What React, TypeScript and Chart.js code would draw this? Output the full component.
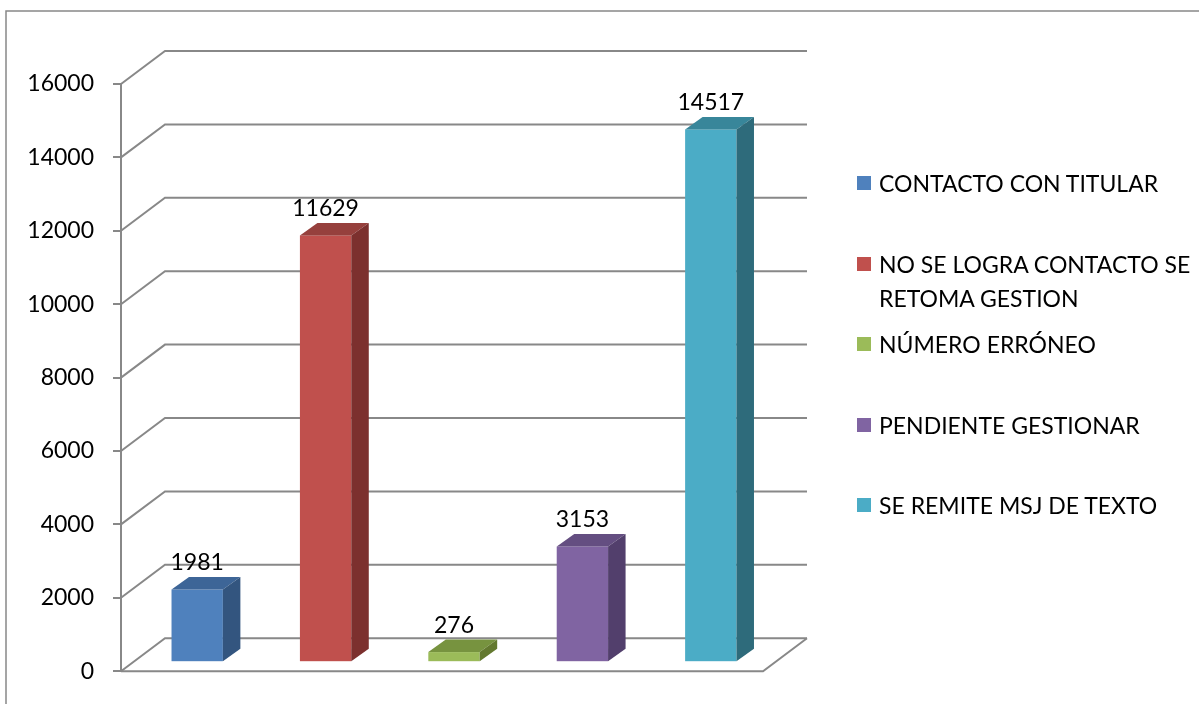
import React, { useEffect, useRef } from 'react';
import { Chart, registerables } from 'chart.js';

Chart.register(...registerables);

// ---- data ----
const categories: (string | string[])[] = [
  'CONTACTO CON TITULAR',
  ['NO SE LOGRA CONTACTO SE', 'RETOMA GESTION'],
  'NÚMERO ERRÓNEO',
  'PENDIENTE GESTIONAR',
  'SE REMITE MSJ DE TEXTO',
];
const values = [1981, 11629, 276, 3153, 14517];
const yMin = 0;
const yMax = 16000;
const yStep = 2000;

// ---- styles ----
const frontColors = ['#4F81BD', '#C0504D', '#9BBB59', '#8064A2', '#4BACC6'];
const topColors = ['#3D6597', '#96403D', '#77933F', '#644E81', '#38869A'];
const sideColors = ['#33557F', '#7C302E', '#63792F', '#523F6C', '#2E6B7B'];
const lineColor = '#888888';
const FONT = 'Lato, "Open Sans", sans-serif';
const FONT_SIZE = 23;

// 3D geometry (pixels)
const DEPTH_X = 44;
const DEPTH_Y = 33;
const BAR_SHIFT_X = 12;
const BAR_SHIFT_Y = 9;
const BAR_DX = 17.5;
const BAR_DY = 12.5;

const threeD = {
  id: 'threeD',
  beforeDraw(chart: any) {
    const ctx = chart.ctx;
    ctx.save();
    ctx.strokeStyle = lineColor;
    ctx.lineWidth = 1.5;
    ctx.beginPath();
    ctx.moveTo(6, 704);
    ctx.lineTo(6, 11);
    ctx.lineTo(1199, 11);
    ctx.stroke();
    ctx.restore();
  },
  beforeDatasetsDraw(chart: any) {
    const ctx = chart.ctx;
    const { left, right } = chart.chartArea;
    const ys = chart.scales.y;
    ctx.save();
    ctx.strokeStyle = lineColor;
    ctx.lineWidth = 2;
    ctx.lineCap = 'butt';
    for (let v = yMin; v <= yMax; v += yStep) {
      const y = ys.getPixelForValue(v);
      ctx.beginPath();
      ctx.moveTo(left, y);
      ctx.lineTo(left + DEPTH_X, y - DEPTH_Y);
      ctx.lineTo(right + DEPTH_X, y - DEPTH_Y);
      ctx.stroke();
    }
    const y0 = ys.getPixelForValue(yMin);
    ctx.beginPath();
    ctx.moveTo(left, y0);
    ctx.lineTo(right, y0);
    ctx.lineTo(right + DEPTH_X, y0 - DEPTH_Y);
    ctx.stroke();
    ctx.restore();
  },
  beforeDatasetDraw() {
    return false;
  },
  afterDatasetsDraw(chart: any) {
    const ctx = chart.ctx;
    const meta = chart.getDatasetMeta(0);
    ctx.save();
    meta.data.forEach((el: any, i: number) => {
      const half = el.width / 2;
      const L = el.x - half + BAR_SHIFT_X;
      const R = el.x + half + BAR_SHIFT_X;
      const T = el.y - BAR_SHIFT_Y;
      const B = el.base - BAR_SHIFT_Y;
      ctx.fillStyle = frontColors[i];
      ctx.fillRect(L, T, R - L, B - T);
      ctx.fillStyle = topColors[i];
      ctx.beginPath();
      ctx.moveTo(L, T);
      ctx.lineTo(L + BAR_DX, T - BAR_DY);
      ctx.lineTo(R + BAR_DX, T - BAR_DY);
      ctx.lineTo(R, T);
      ctx.closePath();
      ctx.fill();
      ctx.fillStyle = sideColors[i];
      ctx.beginPath();
      ctx.moveTo(R, T);
      ctx.lineTo(R + BAR_DX, T - BAR_DY);
      ctx.lineTo(R + BAR_DX, B - BAR_DY);
      ctx.lineTo(R, B);
      ctx.closePath();
      ctx.fill();
      ctx.fillStyle = '#000';
      ctx.font = `${FONT_SIZE}px ${FONT}`;
      ctx.textAlign = 'center';
      ctx.textBaseline = 'alphabetic';
      ctx.fillText(String(values[i]), (L + R) / 2, T - 19);
    });
    ctx.restore();
  },
};

function Legend() {
  return (
    <div style={{ position: 'absolute', left: 857, top: 0, width: 340, fontFamily: FONT, fontSize: FONT_SIZE, color: '#000' }}>
      {categories.map((c, i) => {
        const lines = Array.isArray(c) ? c : [c];
        return (
          <div key={i} style={{ position: 'absolute', left: 0, top: 166 + i * 80.5, display: 'flex', alignItems: 'flex-start' }}>
            <div style={{ width: 14, height: 14, background: frontColors[i], marginTop: 10, marginRight: 8, flex: 'none' }} />
            <div style={{ lineHeight: '34px', whiteSpace: 'nowrap' }}>
              {lines.map((t, j) => (
                <div key={j}>{t}</div>
              ))}
            </div>
          </div>
        );
      })}
    </div>
  );
}

export default function App() {
  const ref = useRef<HTMLCanvasElement | null>(null);
  useEffect(() => {
    if (!ref.current) return;
    const chart = new Chart(ref.current, {
      type: 'bar',
      data: {
        labels: categories as any,
        datasets: [
          {
            data: values,
            backgroundColor: frontColors,
            barPercentage: 0.4,
            categoryPercentage: 1,
          },
        ],
      },
      options: {
        responsive: false,
        animation: false,
        layout: { padding: { left: 0, top: 84, right: 436, bottom: 31 } },
        plugins: { legend: { display: false }, tooltip: { enabled: false } },
        scales: {
          x: { display: false, offset: true },
          y: {
            min: yMin,
            max: yMax,
            ticks: {
              stepSize: yStep,
              color: '#000',
              font: { family: FONT, size: FONT_SIZE },
              padding: 19,
              callback: (v: any) => String(v),
            },
            grid: { drawOnChartArea: false, drawTicks: true, tickLength: 8, color: lineColor, lineWidth: 2 },
            border: { display: true, color: lineColor, width: 2 },
            afterFit(s: any) {
              s.width = 121;
            },
          },
        },
      },
      plugins: [threeD],
    });
    return () => chart.destroy();
  }, []);
  return (
    <div style={{ position: 'fixed', left: 0, top: 0, width: 1199, height: 704, background: '#fff' }}>
      <canvas ref={ref} width={1199} height={704} style={{ position: 'absolute', left: 0, top: 0 }} />
      <Legend />
    </div>
  );
}
